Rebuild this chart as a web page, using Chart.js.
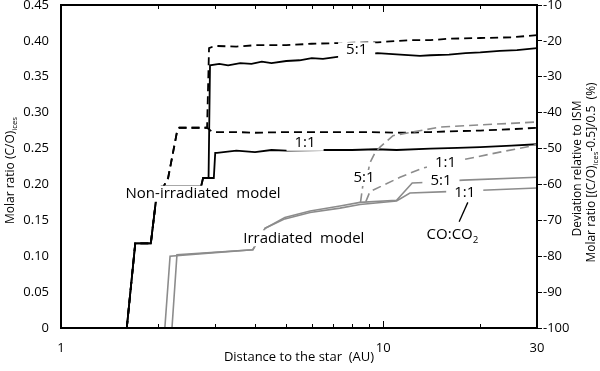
<!DOCTYPE html>
<html>
<head>
<meta charset="utf-8">
<script src="https://cdn.jsdelivr.net/npm/chart.js@4.4.1/dist/chart.umd.min.js"></script>
<style>
html,body{margin:0;padding:0;background:#fff}
#wrap{width:600px;height:371px}
</style>
</head>
<body>
<div id="wrap"><canvas id="grafico"></canvas></div>
<script>
// datos: distancia (AU) y razon molar (C/O)ices

// modelo no irradiado (negro)
const niSolid51X = [1, 1.60, 1.70, 1.90, 1.97, 2.05, 2.72, 2.76, 2.87, 2.90, 3.1, 3.3, 3.6, 3.9, 4.2, 4.5, 5.0, 5.5, 6.0, 6.5, 7.3, 9.6, 11.3, 13, 14, 16, 18, 20, 23, 26, 30]
const niSolid51Y = [0, 0, 0.118, 0.118, 0.177, 0.197, 0.197, 0.209, 0.209, 0.366, 0.368, 0.366, 0.369, 0.368, 0.371, 0.369, 0.372, 0.373, 0.376, 0.375, 0.378, 0.383, 0.381, 0.379, 0.380, 0.381, 0.383, 0.384, 0.386, 0.387, 0.390]

const niDash51X = [1, 1.60, 1.70, 1.90, 1.97, 2.15, 2.29, 2.33, 2.84, 2.88, 3.0, 3.5, 4.0, 5.0, 6.0, 7.3, 9.6, 12, 14, 16, 20, 25, 30]
const niDash51Y = [0, 0, 0.118, 0.118, 0.177, 0.209, 0.273, 0.279, 0.279, 0.390, 0.393, 0.392, 0.394, 0.394, 0.396, 0.397, 0.398, 0.401, 0.401, 0.403, 0.404, 0.405, 0.408]

const niDash11X = [1, 1.60, 1.70, 1.90, 1.97, 2.15, 2.29, 2.33, 2.84, 2.95, 3.5, 4.0, 5.0, 6.5, 9.0, 11.3, 14, 16, 20, 25, 30]
const niDash11Y = [0, 0, 0.118, 0.118, 0.177, 0.209, 0.273, 0.279, 0.279, 0.273, 0.273, 0.272, 0.273, 0.273, 0.273, 0.272, 0.273, 0.274, 0.275, 0.277, 0.279]

const niSolid11X = [1, 1.60, 1.70, 1.90, 1.97, 2.05, 2.72, 2.76, 2.98, 3.01, 3.05, 3.5, 4.0, 4.5, 5.0, 6.5, 8, 9.5, 11, 14, 17, 20, 25, 30]
const niSolid11Y = [0, 0, 0.118, 0.118, 0.177, 0.197, 0.197, 0.209, 0.209, 0.244, 0.244, 0.247, 0.245, 0.248, 0.247, 0.248, 0.248, 0.249, 0.248, 0.250, 0.251, 0.252, 0.254, 0.256]

// modelo irradiado (gris)
const irSolid51X = [1.92, 2.10, 2.18, 3.0, 3.94, 4.30, 4.95, 5.93, 7.34, 8.47, 11.0, 12.3, 14.0, 17.7, 30]
const irSolid51Y = [0, 0, 0.100, 0.105, 0.109, 0.139, 0.154, 0.163, 0.170, 0.175, 0.178, 0.202, 0.203, 0.206, 0.210]

const irSolid11X = [1.92, 2.21, 2.29, 3.94, 4.30, 4.95, 5.93, 7.34, 8.47, 11.0, 12.1, 15.8, 20.2, 30]
const irSolid11Y = [0, 0, 0.102, 0.109, 0.139, 0.152, 0.161, 0.167, 0.172, 0.177, 0.188, 0.190, 0.192, 0.195]

const irDash51X = [8.5, 8.65, 8.95, 9.09, 9.4, 9.77, 10.72, 15, 30]
const irDash51Y = [0.175, 0.200, 0.215, 0.230, 0.243, 0.252, 0.268, 0.280, 0.287]

const irDash11X = [8.83, 9.09, 11.27, 13.3, 17.5, 23, 28.5, 30]
const irDash11Y = [0.176, 0.190, 0.210, 0.223, 0.234, 0.245, 0.253, 0.256]

// ticks
const xTickLabels = [1, 10, 30]
const xMinorTicks = [2, 3, 4, 5, 6, 7, 8, 9, 10, 20]

// etiquetas dentro del grafico
const etiquetas = [
  {partes: [['Non-irradiated  model']], x: 2.76, y: 0.187},
  {partes: [['Irradiated  model']], x: 5.67, y: 0.125},
  {partes: [['5:1']], x: 8.27, y: 0.387},
  {partes: [['1:1']], x: 5.72, y: 0.258},
  {partes: [['5:1']], x: 8.72, y: 0.209},
  {partes: [['1:1']], x: 15.6, y: 0.230},
  {partes: [['5:1']], x: 15.1, y: 0.205},
  {partes: [['1:1']], x: 17.9, y: 0.188},
  {partes: [['CO:CO'], ['2', true]], x: 16.4, y: 0.130, sinFondo: true}
]

const FONT = '"Open Sans", "Noto Sans", sans-serif'
const GRIS = '#8c8c8c'
const TAM = 15

const puntos = (xs, ys) => xs.map((x, i) => ({x: x, y: ys[i]}))

const serie = (xs, ys, color, dash, ancho) => ({
  data: puntos(xs, ys),
  borderColor: color,
  borderWidth: ancho,
  borderDash: dash,
  pointRadius: 0,
  tension: 0,
  fill: false,
  yAxisID: 'y'
})

function textoRico(ctx, partes, x, y, size) {
  let w = 0
  partes.forEach(p => {
    ctx.font = (p[1] ? size * 0.65 : size) + 'px ' + FONT
    w += ctx.measureText(p[0]).width
  })
  let cx = x - w / 2
  partes.forEach(p => {
    ctx.font = (p[1] ? size * 0.65 : size) + 'px ' + FONT
    ctx.fillText(p[0], cx, p[1] ? y + size * 0.35 : y)
    cx += ctx.measureText(p[0]).width
  })
  return w
}

const extras = {
  id: 'extras',
  afterDatasetsDraw(chart) {
    const {ctx, scales} = chart
    ctx.save()
    ctx.textAlign = 'left'
    ctx.textBaseline = 'middle'
    etiquetas.forEach(e => {
      const px = scales.x.getPixelForValue(e.x)
      const py = scales.y.getPixelForValue(e.y)
      let w = 0
      e.partes.forEach(p => {
        ctx.font = (p[1] ? TAM * 0.65 : TAM) + 'px ' + FONT
        w += ctx.measureText(p[0]).width
      })
      if (!e.sinFondo) {
        ctx.fillStyle = '#fff'
        ctx.fillRect(px - w / 2 - 8, py - 8, w + 16, 16)
      }
      ctx.fillStyle = '#000'
      textoRico(ctx, e.partes, px, py, TAM)
    })
    // linea que apunta a CO:CO2
    const a1 = [scales.x.getPixelForValue(18.3), scales.y.getPixelForValue(0.175)]
    const a2 = [scales.x.getPixelForValue(17.2), scales.y.getPixelForValue(0.148)]
    ctx.strokeStyle = '#000'
    ctx.lineWidth = 1.3
    ctx.beginPath()
    ctx.moveTo(a1[0], a1[1])
    ctx.lineTo(a2[0], a2[1])
    ctx.stroke()
    ctx.restore()
  },
  afterDraw(chart) {
    const {ctx, chartArea: a, scales} = chart
    ctx.save()
    // caja
    ctx.strokeStyle = '#000'
    ctx.lineWidth = 2
    ctx.strokeRect(a.left, a.top, a.right - a.left, a.bottom - a.top)
    // ticks menores hacia adentro
    ctx.lineWidth = 1
    xMinorTicks.forEach(v => {
      const px = Math.round(scales.x.getPixelForValue(v)) + 0.5
      const len = v === 10 ? 7 : 4
      ctx.beginPath()
      ctx.moveTo(px, a.bottom)
      ctx.lineTo(px, a.bottom - len)
      ctx.moveTo(px, a.top)
      ctx.lineTo(px, a.top + len)
      ctx.stroke()
    })
    // titulos de ejes
    ctx.fillStyle = '#000'
    ctx.textAlign = 'left'
    ctx.textBaseline = 'middle'
    const cy = (a.top + a.bottom) / 2
    ctx.save()
    ctx.translate(11, cy + 4)
    ctx.rotate(-Math.PI / 2)
    textoRico(ctx, [['Molar ratio (C/O)'], ['ices', true]], 0, 0, 12)
    ctx.restore()
    ctx.save()
    ctx.translate(578, cy + 2)
    ctx.rotate(-Math.PI / 2)
    textoRico(ctx, [['Deviation relative to ISM']], 0, 0, 12)
    ctx.restore()
    ctx.save()
    ctx.translate(592, cy + 6)
    ctx.rotate(-Math.PI / 2)
    textoRico(ctx, [['Molar ratio [(C/O)'], ['ices', true], ['-0.5]/0.5  (%)']], 0, 0, 12)
    ctx.restore()
    textoRico(ctx, [['Distance to the star  (AU)']], (a.left + a.right) / 2, 357, 13)
    ctx.restore()
  }
}

Chart.defaults.color = '#000'
Chart.defaults.font.family = FONT

const grafico = new Chart(document.getElementById('grafico'), {
  type: 'line',
  data: {
    datasets: [
      serie(irSolid51X, irSolid51Y, GRIS, [], 1.6),
      serie(irSolid11X, irSolid11Y, GRIS, [], 1.6),
      serie(irDash51X, irDash51Y, GRIS, [9, 5], 1.6),
      serie(irDash11X, irDash11Y, GRIS, [9, 5], 1.6),
      serie(niSolid51X, niSolid51Y, '#000', [], 1.8),
      serie(niSolid11X, niSolid11Y, '#000', [], 1.8),
      serie(niDash51X, niDash51Y, '#000', [8, 5], 1.8),
      serie(niDash11X, niDash11Y, '#000', [8, 5], 1.8)
    ]
  },
  options: {
    responsive: true,
    maintainAspectRatio: false,
    animation: false,
    events: [],
    layout: {padding: {top: 5, right: 0, left: 0, bottom: 0}},
    plugins: {legend: {display: false}, tooltip: {enabled: false}},
    scales: {
      x: {
        type: 'logarithmic',
        min: 1,
        max: 30,
        position: 'bottom',
        grid: {display: false},
        border: {display: false},
        afterBuildTicks: s => { s.ticks = xTickLabels.map(v => ({value: v})) },
        ticks: {
          autoSkip: false,
          maxRotation: 0,
          padding: 4,
          font: {size: 13},
          callback: v => String(v)
        },
        afterFit: s => { s.height = 43; s.paddingLeft = 0; s.paddingRight = 0 }
      },
      y: {
        type: 'linear',
        position: 'left',
        min: 0,
        max: 0.45,
        grid: {display: false},
        border: {display: false},
        ticks: {
          stepSize: 0.05,
          padding: 4,
          font: {size: 13},
          callback: v => v === 0 ? '0' : v.toFixed(2)
        },
        afterFit: s => { s.width = 61; s.paddingTop = 0; s.paddingBottom = 0 }
      },
      y2: {
        type: 'linear',
        position: 'right',
        min: -100,
        max: -10,
        grid: {display: true, drawOnChartArea: false, drawTicks: true, tickLength: 5, color: '#000', tickColor: '#000'},
        border: {display: false},
        ticks: {
          stepSize: 10,
          padding: 1,
          font: {size: 13}
        },
        afterFit: s => { s.width = 63; s.paddingTop = 0; s.paddingBottom = 0 }
      }
    }
  },
  plugins: [extras]
})
</script>
</body>
</html>
